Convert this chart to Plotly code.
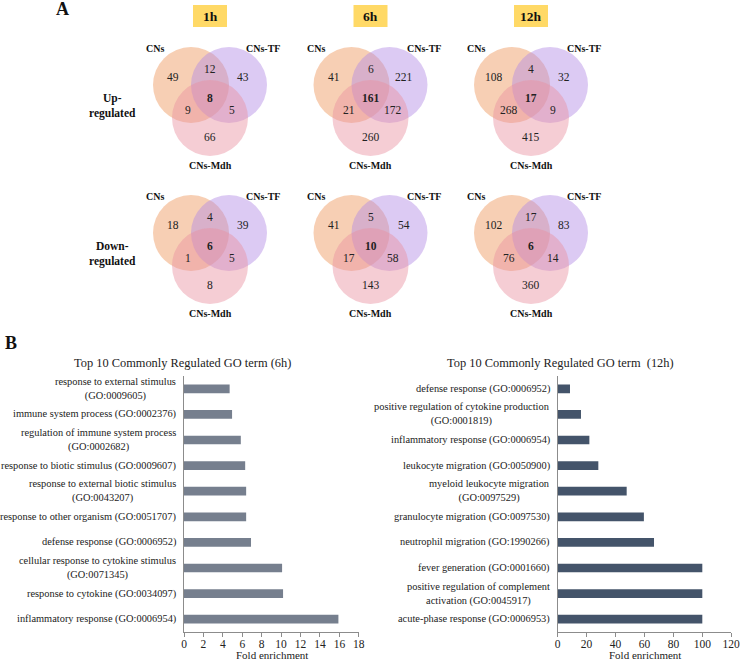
import plotly.graph_objects as go

# ---------------- data ----------------
timepoints = ["1h", "6h", "12h"]
set_names = ["CNs", "CNs-TF", "CNs-Mdh"]
row_labels = ["Up-<br>regulated", "Down-<br>regulated"]
# region order: CNs only, CNs∩TF, TF only, all three, CNs∩Mdh, TF∩Mdh, Mdh only
up_1h = [49, 12, 43, 8, 9, 5, 66]
up_6h = [41, 6, 221, 161, 21, 172, 260]
up_12h = [108, 4, 32, 17, 268, 9, 415]
down_1h = [18, 4, 39, 6, 1, 5, 8]
down_6h = [41, 5, 54, 10, 17, 58, 143]
down_12h = [102, 17, 83, 6, 76, 14, 360]

go_terms_6h = [
    "response to external stimulus<br>(GO:0009605)",
    "immune system process (GO:0002376)",
    "regulation of immune system process<br>(GO:0002682)",
    "response to biotic stimulus (GO:0009607)",
    "response to external biotic stimulus<br>(GO:0043207)",
    "response to other organism (GO:0051707)",
    "defense response (GO:0006952)",
    "cellular response to cytokine stimulus<br>(GO:0071345)",
    "response to cytokine (GO:0034097)",
    "inflammatory response (GO:0006954)",
]
fold_6h = [4.7, 4.95, 5.85, 6.3, 6.4, 6.4, 6.9, 10.1, 10.2, 15.9]

go_terms_12h = [
    "defense response (GO:0006952)",
    "positive regulation of cytokine production<br>(GO:0001819)",
    "inflammatory response (GO:0006954)",
    "leukocyte migration (GO:0050900)",
    "myeloid leukocyte migration<br>(GO:0097529)",
    "granulocyte migration (GO:0097530)",
    "neutrophil migration (GO:1990266)",
    "fever generation (GO:0001660)",
    "positive regulation of complement<br>activation (GO:0045917)",
    "acute-phase response (GO:0006953)",
]
fold_12h = [8.5, 16.1, 21.9, 28.1, 47.7, 59.6, 66.6, 100, 100, 100]

x_ticks_6h = [0, 2, 4, 6, 8, 10, 12, 14, 16, 18]
x_ticks_12h = [0, 20, 40, 60, 80, 100, 120]

# ---------------- styling ----------------
W, H = 740, 660
SERIF = "Liberation Serif, Times New Roman, serif"
col_cns = "rgba(240,160,105,0.50)"
col_tf = "rgba(178,138,228,0.45)"
col_mdh = "rgba(232,145,160,0.45)"
box_col = "#FFD966"
bar_left = "rgb(118,127,142)"
bar_right = "#44546A"
axis_col = "#8C8C8C"

def px(xp):
    return xp / W

def py(yp):
    return 1 - yp / H

fig = go.Figure()

# bar charts
fig.add_trace(go.Bar(x=fold_6h, y=go_terms_6h, orientation="h", width=0.34,
                     marker=dict(color=bar_left, line_width=0), xaxis="x", yaxis="y",
                     hoverinfo="x+y"))
fig.add_trace(go.Bar(x=fold_12h, y=go_terms_12h, orientation="h", width=0.34,
                     marker=dict(color=bar_right, line_width=0), xaxis="x2", yaxis="y2",
                     hoverinfo="x+y"))

y_dom = [py(632), py(376)]
xa_common = dict(showgrid=False, zeroline=False, showline=True, linecolor=axis_col, linewidth=1,
                 ticks="outside", ticklen=4, tickcolor=axis_col, ticklabelstandoff=-3,
                 ticklabeloverflow="allow",
                 tickfont=dict(family=SERIF, size=11.5, color="#222"), fixedrange=True,
                 automargin=False)
ya_common = dict(showgrid=False, zeroline=False, showline=True, linecolor=axis_col, linewidth=1,
                 showticklabels=False, ticks="", range=[9.5, -0.5], type="category",
                 fixedrange=True, automargin=False)

fig.update_layout(
    width=W, height=H, margin=dict(l=0, r=0, t=0, b=0, autoexpand=False),
    paper_bgcolor="white", plot_bgcolor="rgba(0,0,0,0)", showlegend=False,
    xaxis=dict(domain=[px(184), px(359)], range=[0, 18.02], tickvals=x_ticks_6h, anchor="y", **xa_common),
    yaxis=dict(domain=y_dom, anchor="x", **ya_common),
    xaxis2=dict(domain=[px(557.7), px(731.3)], range=[0, 120.05], tickvals=x_ticks_12h, anchor="y2", **xa_common),
    yaxis2=dict(domain=y_dom, anchor="x2", **ya_common),
    xaxis3=dict(domain=[0, 1], range=[0, W], visible=False, anchor="y3", fixedrange=True),
    yaxis3=dict(domain=[0, 1], range=[H, 0], visible=False, anchor="x3", fixedrange=True),
)

shapes = []
annots = []

def txt(x, y, s, size=11.5, bold=False, color="#222", **kw):
    annots.append(dict(x=x, y=y, xref="x3", yref="y3", text=("<b>%s</b>" % s) if bold else s,
                       showarrow=False, font=dict(family=SERIF, size=size, color=color),
                       xanchor=kw.pop("xanchor", "center"), yanchor=kw.pop("yanchor", "middle"), **kw))

# panel letters
txt(62, 9, "A", size=18, bold=True, color="#111")
txt(11, 343, "B", size=18, bold=True, color="#111")

# ---------------- venn diagrams ----------------
venn_cx = [210, 370.5, 531]
row_cy = [85, 233]
R = 38
counts = [[up_1h, up_6h, up_12h], [down_1h, down_6h, down_12h]]
offsets = [(-37, -8), (0, -16), (33, -8), (0, 13), (-22, 25), (22, 25), (0, 52)]

for i, tp in enumerate(timepoints):
    cx = venn_cx[i]
    shapes.append(dict(type="rect", xref="x3", yref="y3", x0=cx - 17, x1=cx + 17, y0=5, y1=27,
                       fillcolor=box_col, line_width=0, layer="below"))
    txt(cx, 16.5, tp, size=13.5, bold=True, color="#111")
    for r, cy in enumerate(row_cy):
        circles = [(cx - 19, cy, col_cns), (cx + 19, cy, col_tf), (cx, cy + 33, col_mdh)]
        for (ccx, ccy, col) in circles:
            shapes.append(dict(type="circle", xref="x3", yref="y3", x0=ccx - R, x1=ccx + R,
                               y0=ccy - R, y1=ccy + R, fillcolor=col, line_width=0, layer="below"))
        txt(cx - 55, cy - 37, set_names[0], size=10, bold=True, color="#111")
        txt(cx + 53, cy - 37, set_names[1], size=10, bold=True, color="#111")
        txt(cx, cy + 80, set_names[2], size=10, bold=True, color="#111")
        vals = counts[r][i]
        for k, (dx, dy) in enumerate(offsets):
            txt(cx + dx, cy + dy, str(vals[k]), size=11.5, bold=(k == 3), color="#222")

for r, cy in enumerate(row_cy):
    txt(112, cy + 21, row_labels[r], size=11.5, bold=True, color="#111")

# ---------------- bar chart titles / labels ----------------
txt(182, 363, "Top 10 Commonly Regulated GO term (6h)", size=12.4, color="#222")
txt(560, 363, "Top 10 Commonly Regulated GO term  (12h)", size=12.4, color="#222")
txt(271.5, 655, "Fold enrichment", size=11, color="#222")
txt(644.5, 655, "Fold enrichment", size=11, color="#222")

for terms, xr, yr in [(go_terms_6h, "x domain", "y"), (go_terms_12h, "x2 domain", "y2")]:
    for t in terms:
        annots.append(dict(x=0, y=t, xref=xr, yref=yr, text=t, showarrow=False, xanchor="right",
                           yanchor="middle", align="center", xshift=-6,
                           font=dict(family=SERIF, size=10.4, color="#222")))

fig.update_layout(shapes=shapes, annotations=annots)
fig.write_html("out.html", config={"displayModeBar": False},
               post_script="document.body.style.margin='0px';")
